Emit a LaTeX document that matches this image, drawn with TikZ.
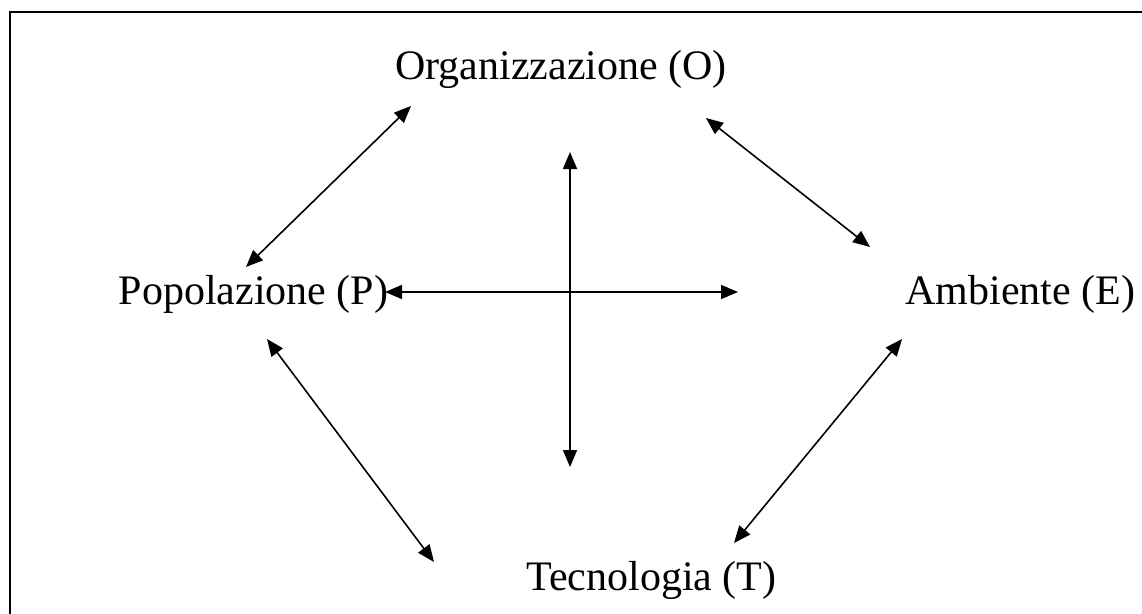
\documentclass[tikz,border=0pt]{standalone}
\usepackage{fontspec}
\setmainfont{Liberation Serif}
\usetikzlibrary{arrows.meta}
\tikzset{
  lbl/.style={anchor=base, inner sep=0pt, font=\fontsize{42}{48}\selectfont},
  link/.style={line width=1.6pt, {Triangle[length=17pt,width=14pt]}-{Triangle[length=17pt,width=14pt]}},
  frame/.style={line width=2.2pt}
}
\begin{document}
\begin{tikzpicture}[x=1pt,y=-1pt]
\useasboundingbox (0,0) rectangle (1142,613);
\draw[frame] (10,614) -- (10,12) -- (1143,12);
\node[lbl] (O) at (561,79) {Organizzazione (O)};
\node[lbl] (P) at (253.5,304) {Popolazione (P)};
\node[lbl] (E) at (1020.5,304) {Ambiente (E)};
\node[lbl] (T) at (651.5,590) {Tecnologia (T)};
\coordinate (po1) at (246,267);
\coordinate (po2) at (411,106);
\coordinate (oe1) at (706,118);
\coordinate (oe2) at (870,247);
\coordinate (pt1) at (267,339);
\coordinate (pt2) at (434,562);
\coordinate (et1) at (902,339);
\coordinate (et2) at (734,543);
\coordinate (h1) at (385,292);
\coordinate (h2) at (738,292);
\coordinate (v1) at (570,152);
\coordinate (v2) at (570,467);
\draw[link] (po1) -- (po2);
\draw[link] (oe1) -- (oe2);
\draw[link] (pt1) -- (pt2);
\draw[link] (et1) -- (et2);
\draw[link] (h1) -- (h2);
\draw[link] (v1) -- (v2);
\end{tikzpicture}
\end{document}
